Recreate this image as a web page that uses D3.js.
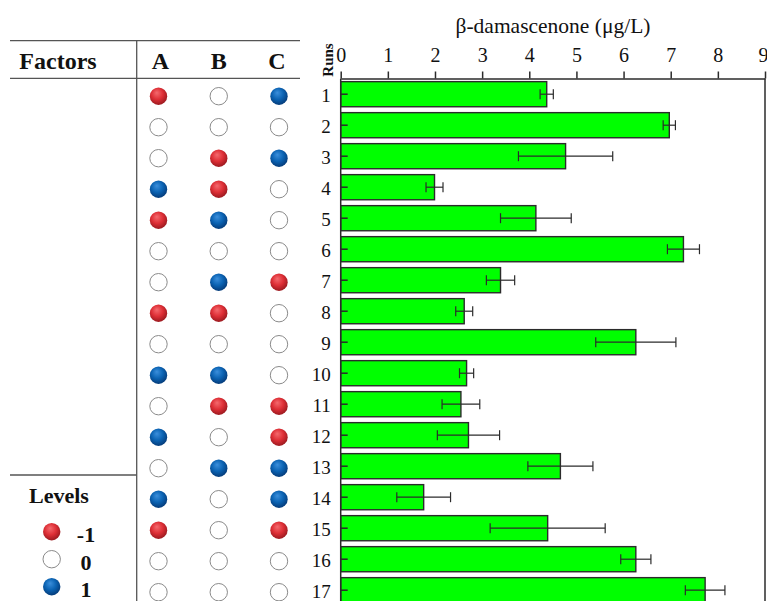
<!DOCTYPE html>
<html>
<head>
<meta charset="utf-8">
<script src="https://cdn.jsdelivr.net/npm/d3@7"></script>
<style>
  html, body { margin: 0; padding: 0; background: #fff; }
  svg { display: block; }
  text { font-family: "Liberation Serif", "Times New Roman", serif; fill: #111; }
</style>
</head>
<body>
<svg id="chart" width="767" height="601"></svg>
<script>
// Runs of the Box-Behnken design
const runs = ["1","2","3","4","5","6","7","8","9","10","11","12","13","14","15","16","17"];
// β-damascenone content (µg/L) and its standard deviation per run
const damascenone = [4.37, 6.97, 4.77, 1.99, 4.14, 7.27, 3.39, 2.62, 6.26, 2.67, 2.55, 2.71, 4.66, 1.76, 4.39, 6.26, 7.73];
const errors      = [0.14, 0.13, 1.00, 0.18, 0.75, 0.34, 0.30, 0.18, 0.85, 0.15, 0.40, 0.66, 0.69, 0.57, 1.22, 0.32, 0.42];
// Coded factor levels for each run
const factors = ["A", "B", "C"];
const levelA = [-1, 0, 0, 1, -1, 0, 0, -1, 0, 1, 0, 1, 0, 1, -1, 0, 0];
const levelB = [0, 0, -1, -1, 1, 0, 1, -1, 0, 1, -1, 0, 1, 0, 0, 0, 0];
const levelC = [1, 0, 1, 0, 0, 0, -1, 0, 0, 0, -1, -1, 1, 1, -1, 0, 0];
const levels = [-1, 0, 1];
const xTicks = [0, 1, 2, 3, 4, 5, 6, 7, 8, 9];

const svg = d3.select("#chart");
const ink = "#2b2b2b";

// Shaded ball fills for the -1 / +1 levels
const defs = svg.append("defs");
function ball(id, c0, c1, c2) {
  const g = defs.append("radialGradient").attr("id", id)
    .attr("cx", "45%").attr("cy", "40%").attr("r", "60%")
    .attr("fx", "40%").attr("fy", "30%");
  g.append("stop").attr("offset", "0%").attr("stop-color", c0);
  g.append("stop").attr("offset", "55%").attr("stop-color", c1);
  g.append("stop").attr("offset", "100%").attr("stop-color", c2);
}
ball("ballRed", "#f46a6e", "#de2f36", "#9c1a20");
ball("ballBlue", "#3b8fdc", "#0b63b3", "#053c7a");

function drawLevel(sel, v) {
  if (v === -1) sel.attr("fill", "url(#ballRed)").attr("stroke", "none");
  else if (v === 1) sel.attr("fill", "url(#ballBlue)").attr("stroke", "none");
  else sel.attr("fill", "#fff").attr("stroke", "#8a8a8a").attr("stroke-width", 1);
}

// Scales
const x = d3.scaleLinear().domain([0, 9]).range([340.7, 765]);
const y = d3.scaleBand().domain(runs).range([78.7, 78.7 + 31 * runs.length])
  .paddingInner(0.19).paddingOuter(0.095);
const colX = d3.scalePoint().domain(factors).range([158.5, 279]);

// Factor table lines
svg.append("line").attr("x1", 10).attr("x2", 300).attr("y1", 40.7).attr("y2", 40.7)
  .attr("stroke", "#555").attr("stroke-width", 1.3);
svg.append("line").attr("x1", 10).attr("x2", 300).attr("y1", 78.3).attr("y2", 78.3)
  .attr("stroke", "#555").attr("stroke-width", 1.3);
svg.append("line").attr("x1", 136.7).attr("x2", 136.7).attr("y1", 40.7).attr("y2", 601)
  .attr("stroke", "#555").attr("stroke-width", 1.3);
svg.append("line").attr("x1", 10).attr("x2", 136.7).attr("y1", 475).attr("y2", 475)
  .attr("stroke", "#555").attr("stroke-width", 1.3);

svg.append("text").attr("x", 58).attr("y", 69).attr("text-anchor", "middle")
  .attr("font-size", 24).attr("font-weight", "bold").text("Factors");
svg.selectAll(".factorHead").data(factors).join("text")
  .attr("class", "factorHead")
  .attr("x", d => colX(d) + (d === "A" ? 2 : d === "C" ? -2 : 0)).attr("y", 69)
  .attr("text-anchor", "middle").attr("font-size", 24).attr("font-weight", "bold")
  .text(d => d);

// Level balls per run
const levelCols = [levelA, levelB, levelC];
levelCols.forEach((col, ci) => {
  svg.selectAll(".lv" + ci).data(col).join("circle")
    .attr("class", "lv" + ci)
    .attr("cx", colX(factors[ci]))
    .attr("cy", (d, i) => y(runs[i]) + y.bandwidth() / 2 + 2)
    .attr("r", 8.7)
    .each(function (d) { drawLevel(d3.select(this), d); });
});

// Legend
svg.append("text").attr("x", 59).attr("y", 503).attr("text-anchor", "middle")
  .attr("font-size", 22).attr("font-weight", "bold").text("Levels");
const legY = d3.scalePoint().domain(levels).range([531.7, 586.7]);
levels.forEach(v => {
  const c = svg.append("circle").attr("cx", 51.7).attr("cy", legY(v)).attr("r", 8.7);
  drawLevel(c, v);
  svg.append("text").attr("x", 86).attr("y", legY(v) + 10.5).attr("text-anchor", "middle")
    .attr("font-size", 22).attr("font-weight", "bold").text(v);
});

// Bars
svg.selectAll(".bar").data(damascenone).join("rect")
  .attr("class", "bar")
  .attr("x", x(0))
  .attr("y", (d, i) => y(runs[i]))
  .attr("width", d => x(d) - x(0))
  .attr("height", y.bandwidth())
  .attr("fill", "#00ff00")
  .attr("stroke", ink).attr("stroke-width", 1.4);

// Error bars
const eb = svg.selectAll(".err").data(damascenone).join("g").attr("class", "err")
  .attr("transform", (d, i) => `translate(0,${y(runs[i]) + y.bandwidth() / 2})`)
  .attr("stroke", ink).attr("stroke-width", 1.2);
eb.append("line").attr("x1", (d, i) => x(d - errors[i])).attr("x2", (d, i) => x(d + errors[i]));
eb.append("line").attr("x1", (d, i) => x(d - errors[i])).attr("x2", (d, i) => x(d - errors[i]))
  .attr("y1", -5).attr("y2", 5);
eb.append("line").attr("x1", (d, i) => x(d + errors[i])).attr("x2", (d, i) => x(d + errors[i]))
  .attr("y1", -5).attr("y2", 5);

// Top value axis
const xAxis = svg.append("g").attr("transform", "translate(0,78.5)")
  .call(d3.axisTop(x).tickValues(xTicks).tickFormat(d3.format("d"))
    .tickSizeInner(7).tickSizeOuter(0).tickPadding(10));
xAxis.select(".domain").attr("stroke", ink).attr("stroke-width", 1.5);
xAxis.selectAll(".tick line").attr("stroke", ink).attr("stroke-width", 1.5);
xAxis.selectAll(".tick text").attr("font-family", "Liberation Serif, serif")
  .attr("font-size", 20).attr("fill", "#111")
  .attr("dx", d => d === 9 ? -2 : 0);

// Left run axis with inward ticks
const yAxis = svg.append("g").attr("transform", `translate(${x(0)},0)`)
  .call(d3.axisLeft(y).tickSizeInner(-7).tickSizeOuter(0).tickPadding(10));
yAxis.select(".domain").attr("stroke", ink).attr("stroke-width", 1.5)
  .attr("d", `M0,78.5V601`);
yAxis.selectAll(".tick line").attr("stroke", ink).attr("stroke-width", 1.5);
yAxis.selectAll(".tick text").attr("font-family", "Liberation Serif, serif")
  .attr("font-size", 19).attr("fill", "#111").attr("dy", "0.42em");

// Right frame
svg.append("line").attr("x1", x(9)).attr("x2", x(9)).attr("y1", 78.5).attr("y2", 601)
  .attr("stroke", ink).attr("stroke-width", 1.5);

// Axis titles
svg.append("text").attr("x", 553).attr("y", 33).attr("text-anchor", "middle")
  .attr("font-size", 21.5).text("β-damascenone (μg/L)");
svg.append("text").attr("transform", "translate(333,60) rotate(-90)")
  .attr("text-anchor", "middle").attr("font-size", 15).attr("font-weight", "bold").text("Runs");
</script>
</body>
</html>
